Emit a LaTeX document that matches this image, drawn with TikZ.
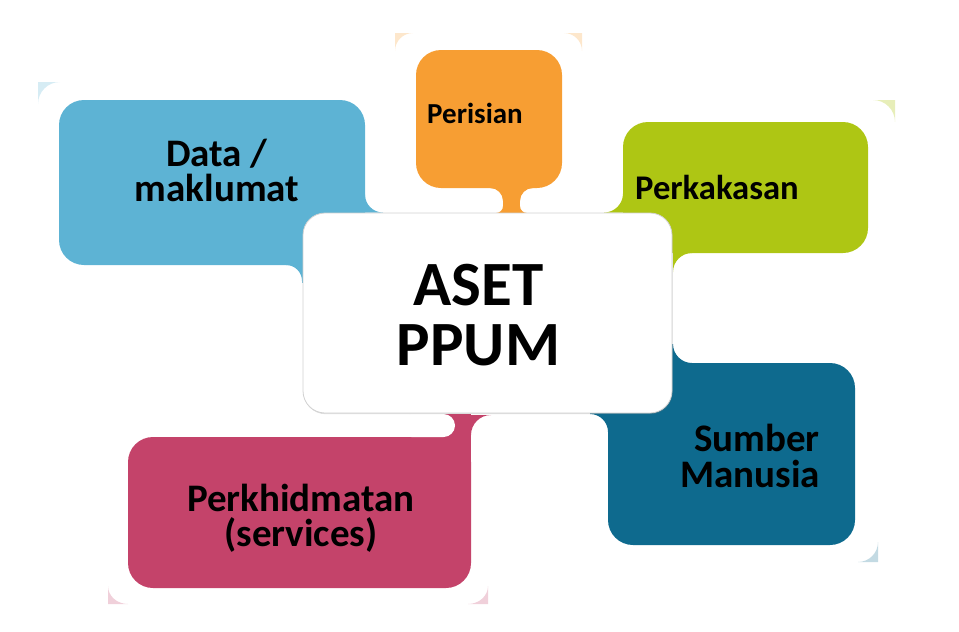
\documentclass[tikz,border=0pt]{standalone}
\usepackage{fontspec}
\setmainfont{Carlito}
\usetikzlibrary{shadows}
\definecolor{cblue}{HTML}{5DB3D4}
\definecolor{corange}{HTML}{F79E33}
\definecolor{cgreen}{HTML}{AEC614}
\definecolor{cdark}{HTML}{0E6A8E}
\definecolor{cpink}{HTML}{C4436A}
% concave fillet: colour, corner x, corner y, signed radius along x, signed radius along y
\newcommand\fillet[5]{%
  \fill[#1] (#2,#3) -- ({#2+#4},#3) .. controls ({#2+0.4477*#4},#3) and (#2,{#3+0.4477*#5}) .. (#2,{#3+#5}) -- cycle;}
\begin{document}
\begin{tikzpicture}[x=1pt,y=-1pt,
  lbl/.style={font=\bfseries, inner sep=0pt, align=center, text=black},
  boxr/.style={rounded corners=25pt}]
\useasboundingbox (0,0) rectangle (959,632);

% pale reflected corners
\fillet{cblue!25}{38}{82}{22}{22}
\fillet{corange!25}{395}{33}{18}{18}
\fillet{corange!25}{582}{33}{-18}{18}
\fillet{cgreen!30}{895}{100}{-22}{22}
\fillet{cdark!25}{878}{562}{-20}{-20}
\fillet{cpink!25}{108}{604}{20}{-18}
\fillet{cpink!25}{488}{604}{-20}{-18}

% Data / maklumat (blue)
\fill[cblue, boxr] (59,100) rectangle (365,265);
\fill[cblue] (302,212.5) rectangle (400,283);
\fillet{cblue}{365}{212.5}{18}{-18}
\fillet{cblue}{302}{265}{-16}{16}

% Perisian (orange)
\fill[corange, boxr] (416,50) rectangle (562,188);
\fill[corange] (503,187) rectangle (520,214);
\fillet{corange}{503}{188}{-13}{13}
\fillet{corange}{520}{188}{13}{13}
\fillet{corange}{503}{213}{-7}{-7}
\fillet{corange}{520}{213}{7}{-7}

% Perkakasan (green)
\fill[cgreen, boxr] (623,122) rectangle (868,253);
\fill[cgreen] (603,212.5) rectangle (673,253);
\fillet{cgreen}{623}{212.5}{-19}{-19}
\fillet{cgreen}{673}{253}{19}{19}

% Sumber Manusia (dark blue)
\fill[cdark, boxr] (608,363) rectangle (855,545);
\fill[cdark] (590,344) rectangle (673,414);
\fillet{cdark}{673}{363}{19}{-19}
\fillet{cdark}{608}{414}{-18}{18}

% Perkhidmatan (pink)
\fill[cpink, boxr] (128,437) rectangle (471,588);
\fill[cpink] (443.5,413.5) rectangle (471,462);
\fill[white, rounded corners=11.5pt] (400,414) rectangle (455,437);
\fillet{cpink}{471}{415}{20}{20}

% centre
\node[draw=black!18, line width=0.8pt, fill=white, rounded corners=22pt,
      minimum width=369pt, minimum height=200pt, inner sep=0pt,
      drop shadow={shadow xshift=0.6pt, shadow yshift=-1.2pt, opacity=0.25}]
      (centre) at (487.5,313) {};

% labels (base anchor = baseline of the last line)
\node[lbl, anchor=base, font=\fontsize{39}{35}\selectfont\bfseries] (data) at (217,201) {Data /\\maklumat};
\node[lbl, anchor=base west, font=\fontsize{29}{30}\selectfont\bfseries] (perisian) at (427,123) {Perisian};
\node[lbl, anchor=base west, font=\fontsize{34.6}{36}\selectfont\bfseries] (perkakasan) at (635,199) {Perkakasan};
\node[lbl, anchor=base, font=\fontsize{63}{60}\selectfont\bfseries] (aset) at (478.5,365) {ASET\\PPUM};
\node[lbl, anchor=base east, align=right, font=\fontsize{39}{36}\selectfont\bfseries] (sumber) at (820,487) {Sumber\\Manusia};
\node[lbl, anchor=base, font=\fontsize{39}{35}\selectfont\bfseries] (perkh) at (301,546) {Perkhidmatan\\(services)};
\end{tikzpicture}
\end{document}
